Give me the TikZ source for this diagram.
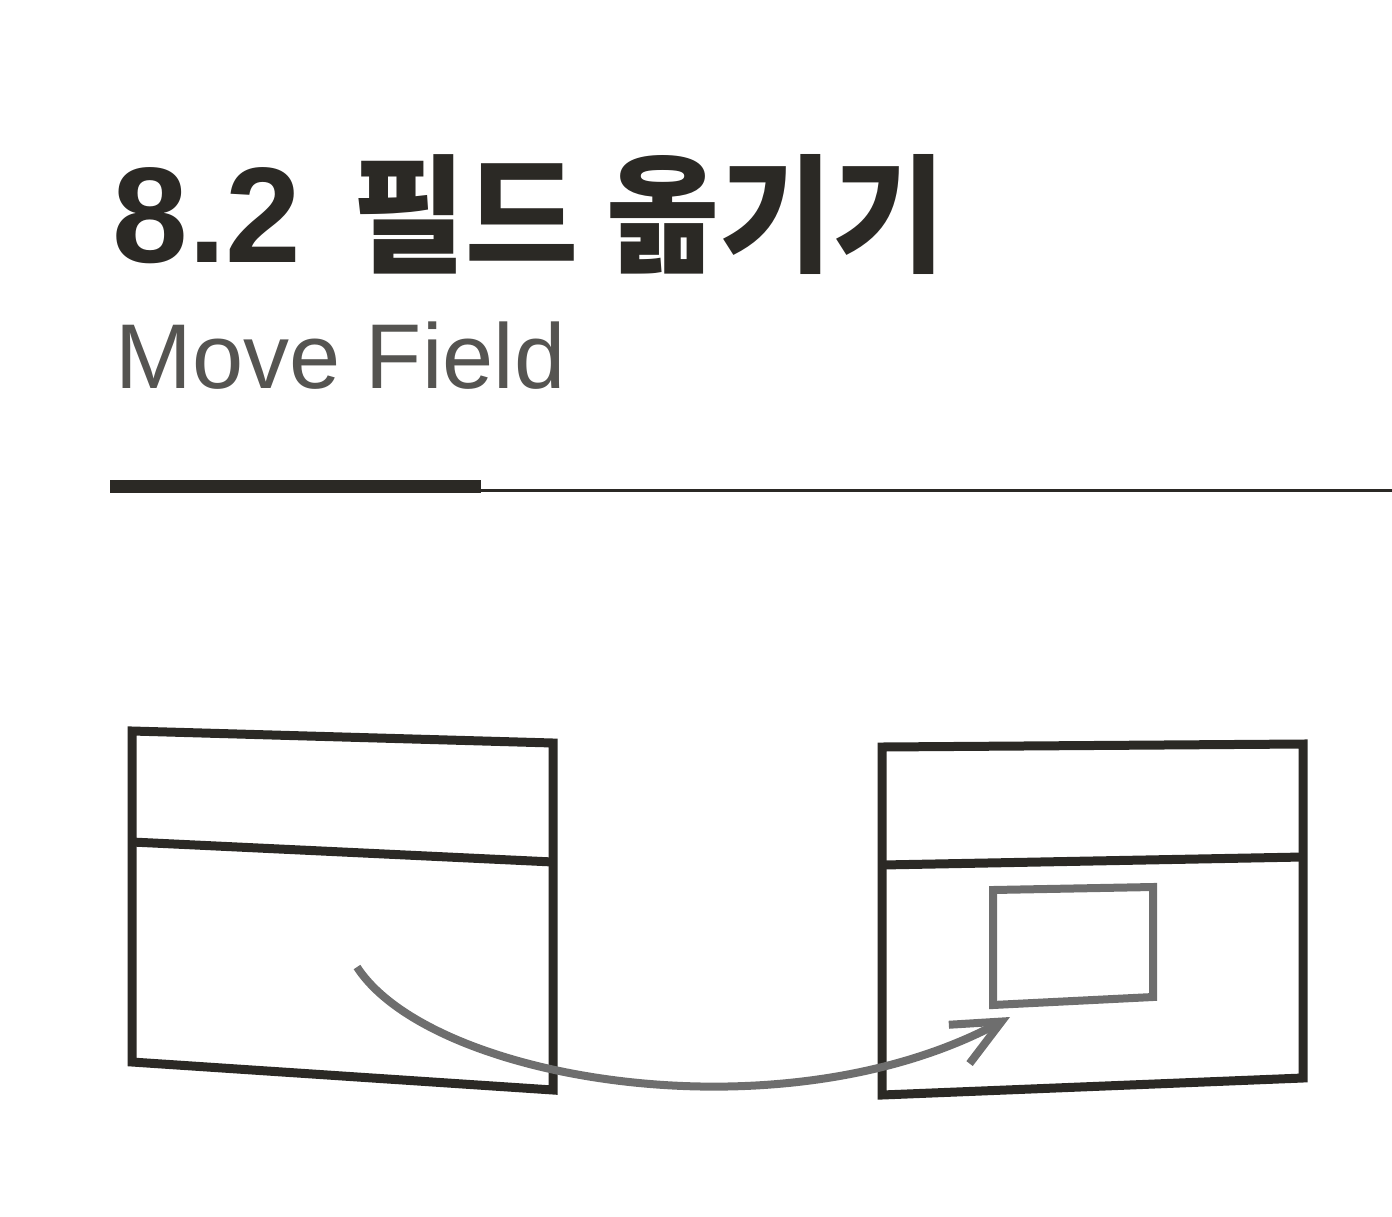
\documentclass[tikz,border=0pt]{standalone}
\usepackage{fontspec}
\usepackage{graphicx}
\setmainfont{Liberation Sans}
\newfontfamily\krfont{Noto Sans CJK KR}
\usetikzlibrary{positioning,arrows.meta}
\definecolor{ink}{HTML}{2B2925}
\definecolor{halftone}{HTML}{6E6E6E}
\tikzset{
	headline/.style={inner sep=0pt,text=ink,font=\fontsize{68}{70}\selectfont\bfseries},%
	subline/.style={inner sep=0pt,text=ink!80,font=\fontsize{46}{48}\selectfont},%
	classbox/.style={draw=ink,line width=4.5pt,line join=miter},%
	fieldbox/.style={draw=halftone,line width=4pt,line join=miter},%
	movearrow/.style={draw=halftone,line width=4pt,-{Straight Barb[length=24pt,width=22pt]}},%
}
\def\krscale{0.96}

\begin{document}
\begin{tikzpicture}[x=0.5pt,y=-0.5pt]
		\useasboundingbox (0,0) rectangle (1392,1216);
		% Heading {{{
		\node[headline,anchor=base west] (secnum) at (112,262) {8.2};
		\node[headline,base right=25pt of secnum] (sectitle) {\scalebox{\krscale}[1]{\krfont\fontsize{64}{66}\selectfont\bfseries 필드 옮기기}};
		\node[subline,anchor=base west] (engtitle) at (115,388) {Move Field};
		\fill[ink] (110,480) rectangle (481,493);
		\draw[ink,line width=1.5pt] (481,490) -- (1392,490);
		% }}}
		% Source class {{{
		\coordinate (srcnw) at (132,731);
		\coordinate (srcne) at (553,743);
		\coordinate (srcse) at (553,1090);
		\coordinate (srcsw) at (132,1062);
		\draw[classbox] (srcnw) -- (srcne) -- (srcse) -- (srcsw) -- cycle;
		\draw[classbox] (132,842) -- (553,862);
		% }}}
		% Target class {{{
		\coordinate (tgtnw) at (882,747);
		\coordinate (tgtne) at (1303,744);
		\coordinate (tgtse) at (1303,1078);
		\coordinate (tgtsw) at (882,1095);
		\draw[classbox] (tgtnw) -- (tgtne) -- (tgtse) -- (tgtsw) -- cycle;
		\draw[classbox] (882,865) -- (1303,857);
		\draw[fieldbox] (993,890) -- (1153,887) -- (1153,997) -- (993,1005) -- cycle;
		% }}}
		% Move {{{
		\coordinate (fieldsrc) at (357,967);
		\coordinate (fielddst) at (1010,1017);
		\draw[movearrow] (fieldsrc) .. controls (430,1080) and (780,1140) .. (fielddst);
		% }}}
	\end{tikzpicture}
\end{document}
